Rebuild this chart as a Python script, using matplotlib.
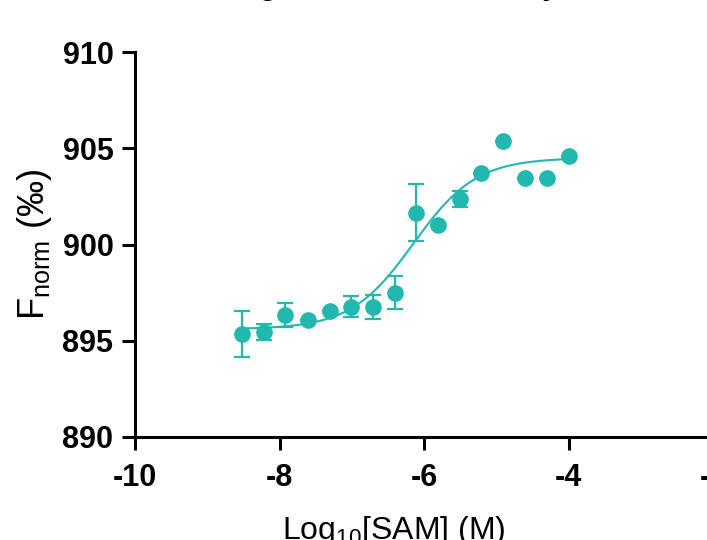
import numpy as np
import matplotlib
matplotlib.use("Agg")
import matplotlib.pyplot as plt

plt.rcParams["font.family"] = ["Liberation Sans", "DejaVu Sans"]
plt.rcParams["mathtext.fontset"] = "custom"
plt.rcParams["mathtext.rm"] = "Liberation Sans"
plt.rcParams["mathtext.default"] = "regular"
plt.rcParams["axes.unicode_minus"] = False

TEAL = "#22b8af"

# MST titration, 1:1 dilution series of SAM
log_conc = [-8.52, -8.22, -7.92, -7.61, -7.31, -7.01, -6.71, -6.41,
            -6.11, -5.81, -5.51, -5.21, -4.91, -4.60, -4.30, -4.00]
fnorm = [895.34, 895.47, 896.34, 896.08, 896.55, 896.77, 896.74, 897.50,
         901.65, 901.01, 902.36, 903.70, 905.38, 903.47, 903.47, 904.61]
fnorm_err = [1.20, 0.42, 0.60, 0.0, 0.0, 0.55, 0.63, 0.84,
             1.49, 0.0, 0.42, 0.0, 0.0, 0.0, 0.0, 0.0]

# dose-response fit (bottom, top, logEC50, hill slope)
fit_bottom = 895.6
fit_top = 904.5
fit_logec50 = -6.15
fit_hill = 1.0


def dose_response(x):
    return fit_bottom + (fit_top - fit_bottom) / (1 + 10 ** ((fit_logec50 - x) * fit_hill))


fig = plt.figure(figsize=(7.07, 5.4), dpi=100)
ax = fig.add_axes([135 / 707, 103 / 540, 578.5 / 707, 385 / 540])

xs = np.linspace(min(log_conc), max(log_conc), 300)
ax.plot(xs, dose_response(xs), color=TEAL, lw=1.5, zorder=2)
ax.errorbar(log_conc, fnorm, yerr=fnorm_err, fmt="none", ecolor=TEAL,
            elinewidth=1.6, capsize=5.5, capthick=1.6, zorder=3)
ax.plot(log_conc, fnorm, "o", color=TEAL, ms=12, mec="none", zorder=4,
        clip_on=False)

ax.set_xlim(-10, -2)
ax.set_ylim(890, 910)
ax.set_xticks([-10, -8, -6, -4, -2])
ax.set_yticks([890, 895, 900, 905, 910])

for side in ("top", "right"):
    ax.spines[side].set_visible(False)
for side in ("left", "bottom"):
    ax.spines[side].set_linewidth(2.2)
ax.tick_params(width=2.2, length=9.5, labelsize=22, pad=6)
ax.tick_params(axis="x", pad=9)
for lab in ax.get_xticklabels() + ax.get_yticklabels():
    lab.set_fontweight("bold")

ax.set_ylabel(r"F$_{norm}$ (‰)", fontsize=26)
ax.yaxis.set_label_coords(-0.14, 0.5)
ax.set_xlabel(r"Log$_{10}$[SAM] (M)", fontsize=23)
ax.xaxis.set_label_coords((394 - 135) / 578.5, -0.2)
ax.xaxis.label.set_va("top")

fig.text(384 / 707, 1 + 6 / 540, "Binding of SAM to the enzyme",
         ha="center", va="baseline", fontsize=22, fontweight="bold")

fig.savefig("out.png", dpi=100)
